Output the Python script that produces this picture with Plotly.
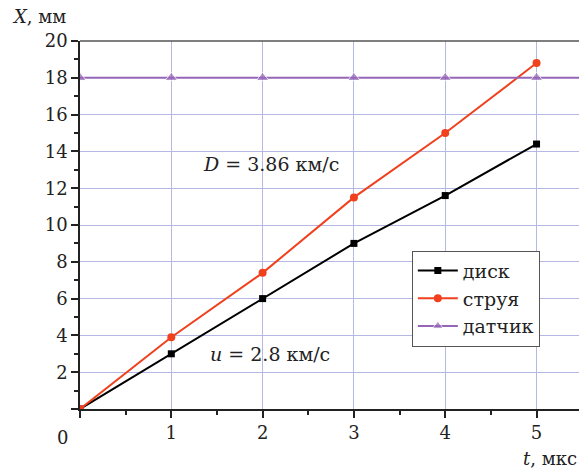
import plotly.graph_objects as go

t_vals = [0, 1, 2, 3, 4, 5]
disk_x = [0, 3.0, 6.0, 9.0, 11.6, 14.4]
jet_x = [0, 3.9, 7.4, 11.5, 15.0, 18.8]
sensor_t = [0, 1, 2, 3, 4, 5, 5.5]
sensor_x = [18, 18, 18, 18, 18, 18, 18]
x_ticks = [0, 1, 2, 3, 4, 5]
x_ticktext = ["", "1", "2", "3", "4", "5"]
y_ticks = [0, 2, 4, 6, 8, 10, 12, 14, 16, 18, 20]
y_ticktext = ["", "2", "4", "6", "8", "10", "12", "14", "16", "18", "20"]

FONT = "'DejaVu Serif', 'Liberation Serif', serif"
GRID = "#b4b8e2"
TXT = "#222"

fig = go.Figure()
fig.add_trace(go.Scatter(x=t_vals, y=disk_x, name="диск", mode="lines+markers",
                         line=dict(color="black", width=2),
                         marker=dict(symbol="square", size=7, color="black")))
fig.add_trace(go.Scatter(x=t_vals, y=jet_x, name="струя", mode="lines+markers",
                         line=dict(color="#f0401e", width=2),
                         marker=dict(symbol="circle", size=8, color="#f0401e")))
fig.add_trace(go.Scatter(x=sensor_t, y=sensor_x, name="датчик", mode="lines+markers",
                         line=dict(color="#9566b8", width=2),
                         marker=dict(symbol="triangle-up", size=[11] * 6 + [0], color="#9566b8")))

fig.update_layout(
    width=579, height=471,
    margin=dict(l=80, r=0, t=41, b=62),
    plot_bgcolor="white", paper_bgcolor="white",
    font=dict(family=FONT, size=17, color=TXT),
    showlegend=True,
    legend=dict(x=0.665, y=0.43, xanchor="left", yanchor="top",
                bordercolor="#555", borderwidth=1, bgcolor="white",
                font=dict(family=FONT, size=19, color=TXT),
                itemwidth=40, tracegroupgap=0),
    xaxis=dict(range=[0, 5.465], tickvals=x_ticks, ticktext=x_ticktext,
               showgrid=True, gridcolor=GRID, gridwidth=1,
               showline=True, linecolor=TXT, linewidth=1.5, mirror=False,
               ticks="outside", ticklen=7, tickcolor=TXT, tickwidth=1.5,
               minor=dict(dtick=0.5, ticks="outside", ticklen=4, tickcolor=TXT, showgrid=False),
               zeroline=False, tickfont=dict(size=18)),
    yaxis=dict(range=[0, 20], tickvals=y_ticks, ticktext=y_ticktext,
               showgrid=True, gridcolor=GRID, gridwidth=1,
               showline=True, linecolor=TXT, linewidth=1.5,
               ticks="outside", ticklen=7, tickcolor=TXT, tickwidth=1.5,
               minor=dict(dtick=1, ticks="outside", ticklen=4, tickcolor=TXT, showgrid=False),
               zeroline=False, tickfont=dict(size=18)),
)

# top border
fig.add_shape(type="line", xref="paper", yref="paper", x0=0, x1=1, y0=1, y1=1,
              line=dict(color="#555", width=1.5))

fig.add_annotation(text="<i>D</i> = 3.86 км/с", x=2.09, y=13.3, xref="x", yref="y",
                   showarrow=False, font=dict(family=FONT, size=19, color=TXT))
fig.add_annotation(text="<i>u</i> = 2.8 км/с", x=2.08, y=3.0, xref="x", yref="y",
                   showarrow=False, font=dict(family=FONT, size=19, color=TXT))
fig.add_annotation(text="<i>X</i>, мм", x=10, y=16, xref="paper", yref="paper",
                   showarrow=False, xanchor="left", yanchor="middle",
                   font=dict(family=FONT, size=18, color=TXT))
fig.add_annotation(text="<i>t</i>, мкс", x=579, y=458, xref="paper", yref="paper",
                   showarrow=False, xanchor="right", yanchor="middle",
                   font=dict(family=FONT, size=18, color=TXT))
fig.add_annotation(text="0", x=62, y=437, xref="paper", yref="paper",
                   showarrow=False, xanchor="center", yanchor="middle",
                   font=dict(family=FONT, size=18, color=TXT))

# convert pixel positions for the last three annotations into paper coords
W, H, L, R, T, B = 579, 471, 80, 0, 41, 62
pw, ph = W - L - R, H - T - B
for ann in fig.layout.annotations[2:]:
    px, py = ann.x, ann.y
    ann.x = (px - L) / pw
    ann.y = (H - B - py) / ph

fig.write_html("out.html")
